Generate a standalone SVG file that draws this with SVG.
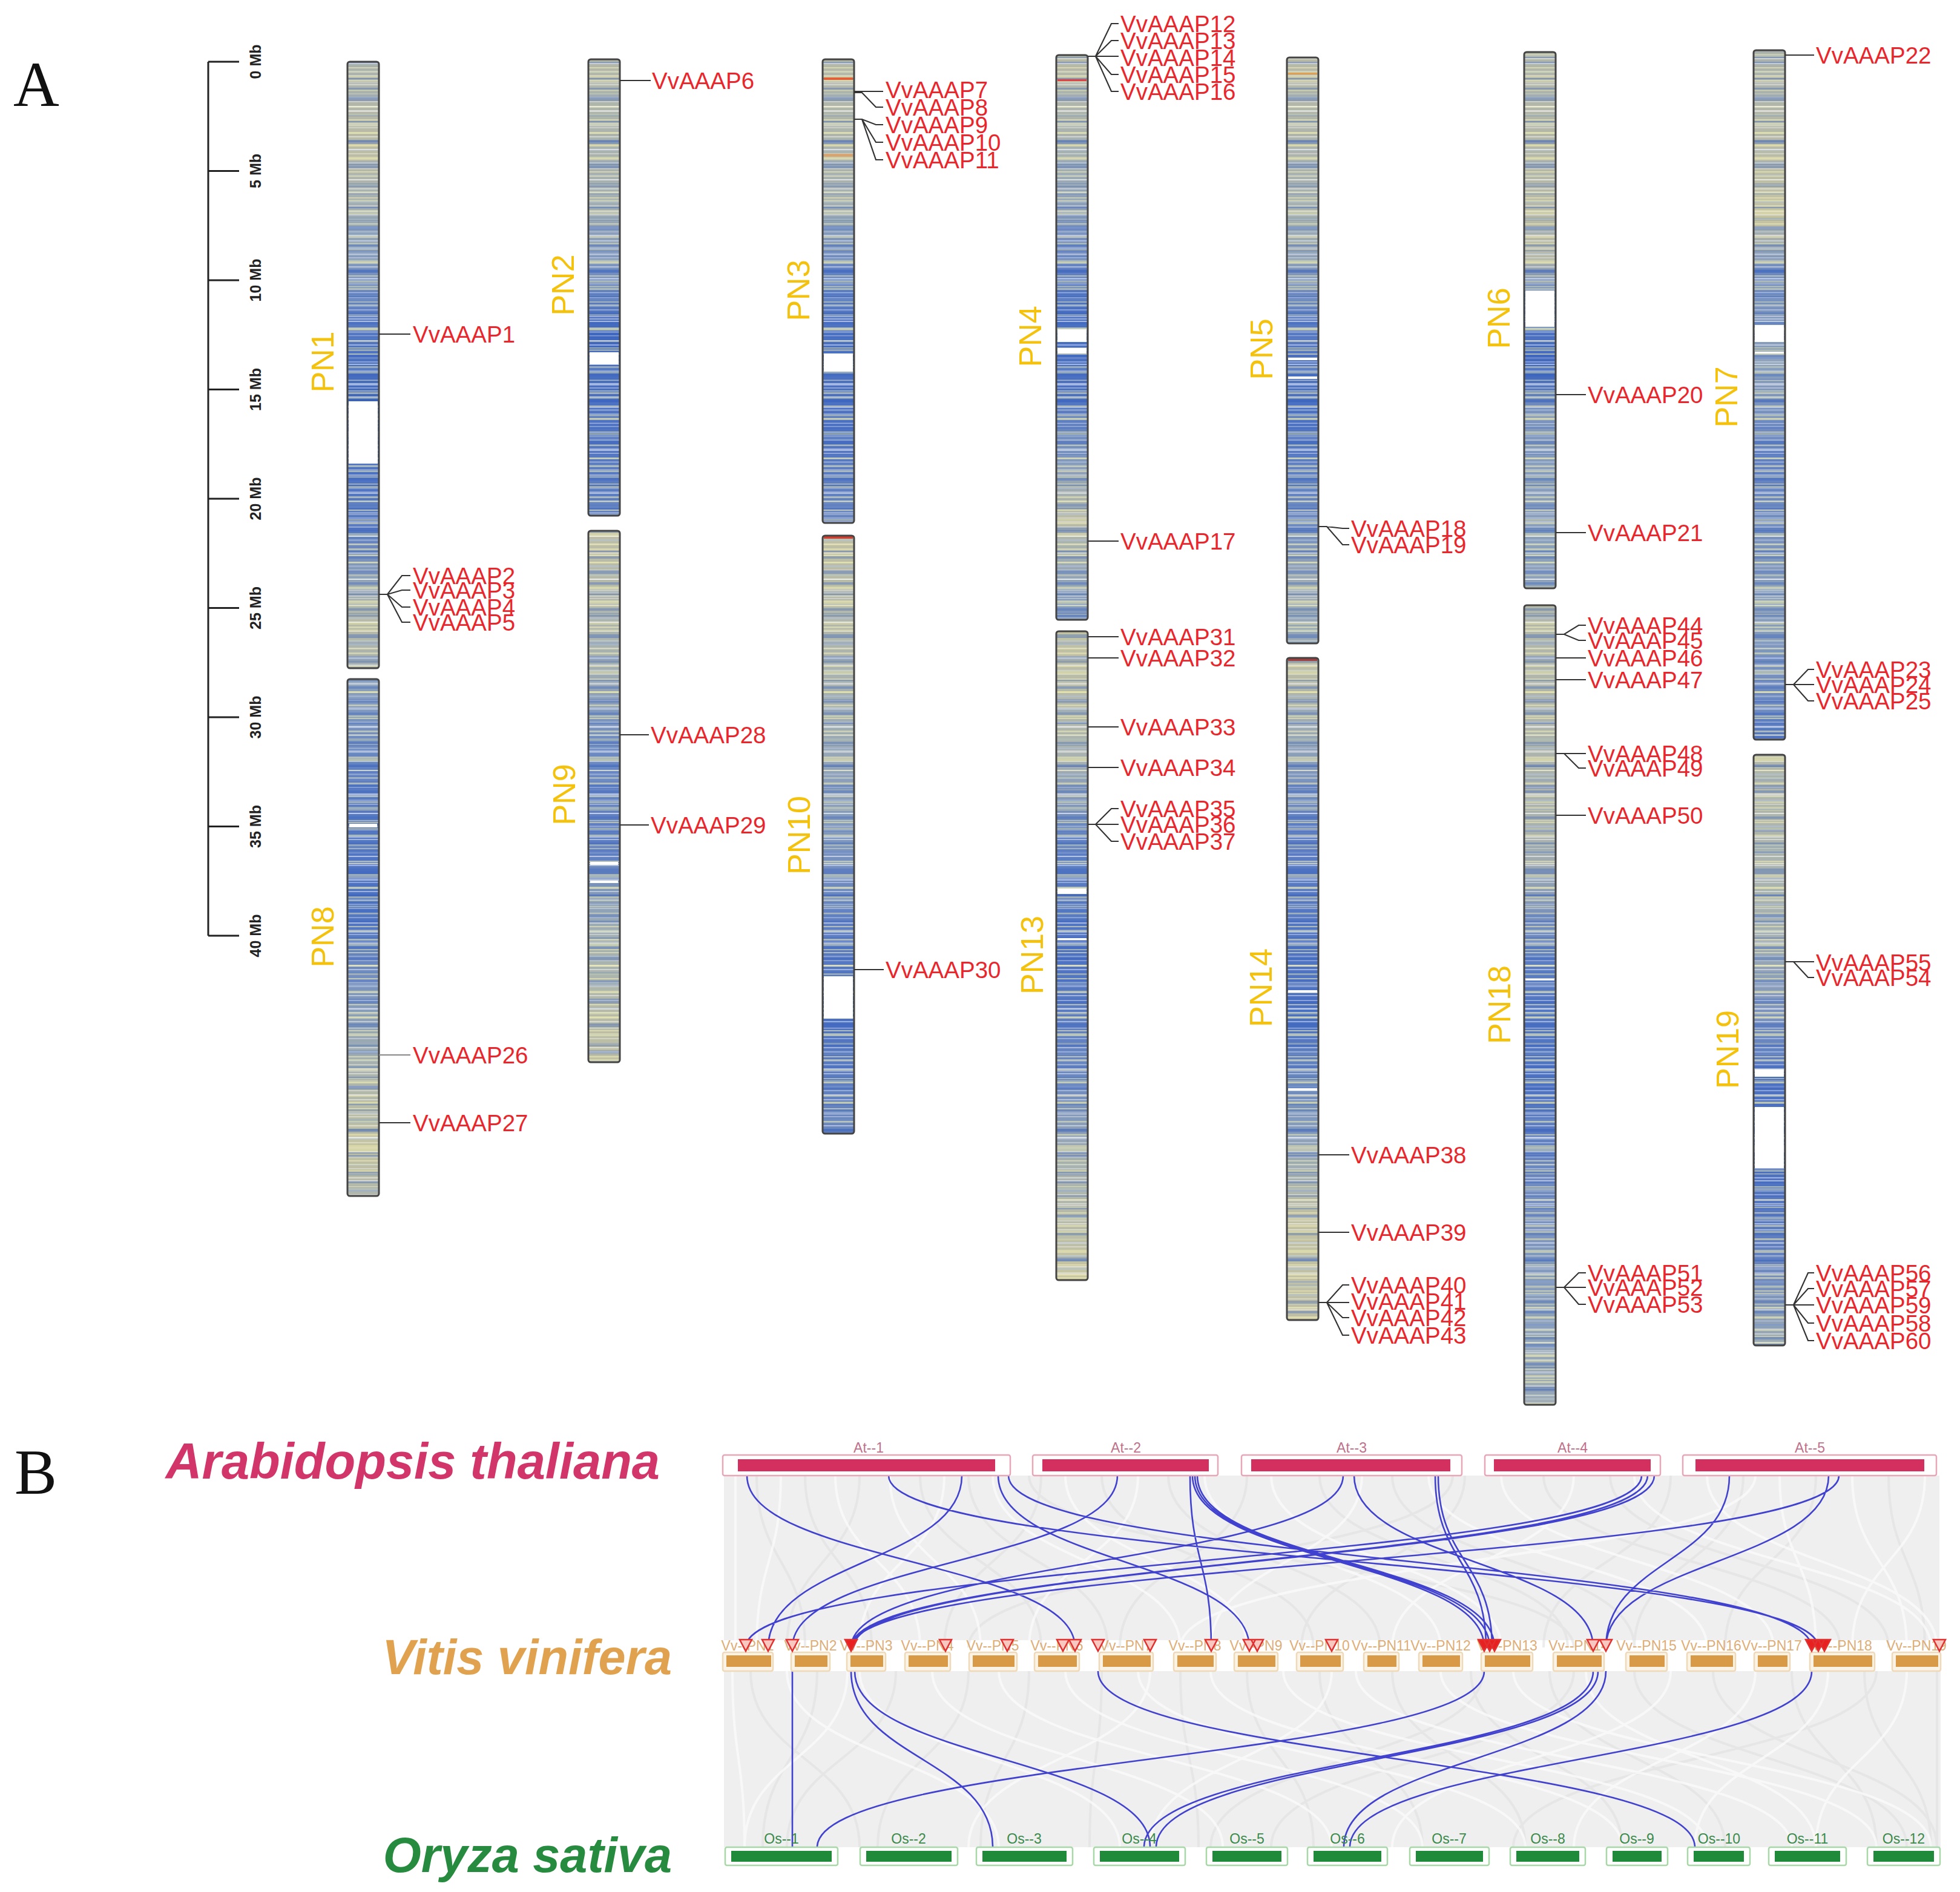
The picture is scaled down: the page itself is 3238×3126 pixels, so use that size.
<svg xmlns="http://www.w3.org/2000/svg" width="3238" height="3126" viewBox="0 0 3238 3126">
<style>
.ln{fill:none;stroke:#333;stroke-width:2.2}
.lg{fill:#E8262B;font-family:"Liberation Sans",Arial,sans-serif;font-size:38.5px}
.pn{fill:#F4C20D;font-family:"Liberation Sans",Arial,sans-serif;font-size:52px;text-anchor:middle}
.co{fill:none;stroke:#444;stroke-width:3}
.gap{fill:#fff}
.sc{font-family:"Liberation Sans",Arial,sans-serif;font-size:25px;font-weight:bold;fill:#222;text-anchor:middle}
.bl{fill:none;stroke:#2E2ECC;stroke-width:2.6;opacity:.9}
.gr{fill:none;stroke:#E0E0E0;stroke-width:4;opacity:.6}
.gw{fill:none;stroke:#FCFCFC;stroke-width:4;opacity:.7}
.at{fill:#fff;stroke:#E6A8B8;stroke-width:2.5}
.ati{fill:#D32F5F}
.vv{fill:#FBF3E6;stroke:#EED9B8;stroke-width:2.5}
.vvi{fill:#D99A48}
.os{fill:#fff;stroke:#A8D8A8;stroke-width:2.5}
.osi{fill:#1F8B3A}
.atl{font-family:"Liberation Sans",Arial,sans-serif;font-size:23px;fill:#C0708A;text-anchor:middle}
.vvl{font-family:"Liberation Sans",Arial,sans-serif;font-size:23px;fill:#D8A060;opacity:.85;text-anchor:middle}
.osl{font-family:"Liberation Sans",Arial,sans-serif;font-size:23px;fill:#3A8A4A;text-anchor:middle}
.tri{fill:#F8C8C0;stroke:#E03030;stroke-width:2.5}
.trf{fill:#E82020;stroke:#E03030;stroke-width:2.5}
.sp{font-family:"Liberation Sans",Arial,sans-serif;font-size:81px;font-weight:bold;font-style:italic;text-anchor:end}
.big{font-family:"Liberation Serif","Times New Roman",serif;font-size:105px;fill:#111}
</style>
<defs>
<pattern id="s1" patternUnits="userSpaceOnUse" width="10" height="43">
<rect y="3" width="10" height="3" fill="#EEEBB8" opacity=".55"/>
<rect y="10" width="10" height="2" fill="#fff" opacity=".45"/>
<rect y="16" width="10" height="4" fill="#3560BE" opacity=".35"/>
<rect y="25" width="10" height="2" fill="#EEEBB8" opacity=".6"/>
<rect y="31" width="10" height="3" fill="#B4C4DE" opacity=".5"/>
<rect y="38" width="10" height="2" fill="#fff" opacity=".35"/>
</pattern>
<pattern id="s2" patternUnits="userSpaceOnUse" width="10" height="71">
<rect y="6" width="10" height="2" fill="#F0EDB0" opacity=".5"/>
<rect y="19" width="10" height="6" fill="#2F5BBE" opacity=".3"/>
<rect y="33" width="10" height="2" fill="#fff" opacity=".5"/>
<rect y="46" width="10" height="3" fill="#F0EDB0" opacity=".45"/>
<rect y="58" width="10" height="2" fill="#3560BE" opacity=".4"/>
<rect y="65" width="10" height="1.5" fill="#fff" opacity=".4"/>
</pattern>
<pattern id="s3" patternUnits="userSpaceOnUse" width="10" height="113">
<rect y="12" width="10" height="3" fill="#E9E6A8" opacity=".5"/>
<rect y="40" width="10" height="8" fill="#7F98C4" opacity=".3"/>
<rect y="70" width="10" height="2" fill="#fff" opacity=".4"/>
<rect y="90" width="10" height="4" fill="#F3EFB4" opacity=".4"/>
</pattern>
<linearGradient id="g1" x1="0" y1="0" x2="0" y2="1"><stop offset="0" stop-color="#A9B1AE"/><stop offset=".15" stop-color="#BDBDA5"/><stop offset=".3" stop-color="#8FA3BC"/><stop offset=".42" stop-color="#5A7CC2"/><stop offset=".56" stop-color="#3F67BE"/><stop offset=".66" stop-color="#4A70C2"/><stop offset=".78" stop-color="#5E7EC0"/><stop offset=".85" stop-color="#8FA2B8"/><stop offset=".92" stop-color="#B8BBA6"/><stop offset="1" stop-color="#A5AFB0"/></linearGradient>
<linearGradient id="g8" x1="0" y1="0" x2="0" y2="1"><stop offset="0" stop-color="#8FA3BC"/><stop offset=".2" stop-color="#5A7CC2"/><stop offset=".45" stop-color="#4A70C2"/><stop offset=".6" stop-color="#7C95BE"/><stop offset=".75" stop-color="#A8B2AE"/><stop offset=".9" stop-color="#C5C4A2"/><stop offset="1" stop-color="#B0B6AA"/></linearGradient>
<linearGradient id="g2" x1="0" y1="0" x2="0" y2="1"><stop offset="0" stop-color="#B3B8A9"/><stop offset=".3" stop-color="#A6B0B0"/><stop offset=".45" stop-color="#7D96C0"/><stop offset=".6" stop-color="#3F67BE"/><stop offset=".75" stop-color="#4D72C2"/><stop offset="1" stop-color="#5F7FC0"/></linearGradient>
<linearGradient id="g9" x1="0" y1="0" x2="0" y2="1"><stop offset="0" stop-color="#BFBFA5"/><stop offset=".25" stop-color="#A5B0B1"/><stop offset=".4" stop-color="#6E8BC2"/><stop offset=".6" stop-color="#5B7CC2"/><stop offset=".75" stop-color="#A0AEB3"/><stop offset="1" stop-color="#C2C1A3"/></linearGradient>
<linearGradient id="g3" x1="0" y1="0" x2="0" y2="1"><stop offset="0" stop-color="#B5B9A8"/><stop offset=".3" stop-color="#A7B1B0"/><stop offset=".45" stop-color="#6585C2"/><stop offset=".6" stop-color="#4A70C2"/><stop offset=".8" stop-color="#4D72C2"/><stop offset="1" stop-color="#6A87C0"/></linearGradient>
<linearGradient id="g10" x1="0" y1="0" x2="0" y2="1"><stop offset="0" stop-color="#C0C0A4"/><stop offset=".3" stop-color="#A2AEB2"/><stop offset=".5" stop-color="#8098BE"/><stop offset=".65" stop-color="#5F7FC2"/><stop offset=".8" stop-color="#4A70C2"/><stop offset="1" stop-color="#6D89BE"/></linearGradient>
<linearGradient id="g4" x1="0" y1="0" x2="0" y2="1"><stop offset="0" stop-color="#B8BAA7"/><stop offset=".2" stop-color="#A3AFB2"/><stop offset=".32" stop-color="#7891C0"/><stop offset=".45" stop-color="#4A70C2"/><stop offset=".6" stop-color="#4C71C2"/><stop offset=".72" stop-color="#8299BC"/><stop offset=".82" stop-color="#BDBEA5"/><stop offset=".9" stop-color="#9DABB4"/><stop offset="1" stop-color="#7C95BE"/></linearGradient>
<linearGradient id="g13" x1="0" y1="0" x2="0" y2="1"><stop offset="0" stop-color="#C3C2A3"/><stop offset=".2" stop-color="#A7B1B0"/><stop offset=".32" stop-color="#5F80C2"/><stop offset=".5" stop-color="#4D72C2"/><stop offset=".7" stop-color="#6E8AC0"/><stop offset=".82" stop-color="#A7B1B0"/><stop offset="1" stop-color="#C8C6A2"/></linearGradient>
<linearGradient id="g5" x1="0" y1="0" x2="0" y2="1"><stop offset="0" stop-color="#B8BAA7"/><stop offset=".3" stop-color="#A3AFB2"/><stop offset=".45" stop-color="#5A7CC2"/><stop offset=".6" stop-color="#4A70C2"/><stop offset=".8" stop-color="#6F8BC0"/><stop offset=".9" stop-color="#A2AEB2"/><stop offset="1" stop-color="#93A5B7"/></linearGradient>
<linearGradient id="g14" x1="0" y1="0" x2="0" y2="1"><stop offset="0" stop-color="#C2C1A3"/><stop offset=".12" stop-color="#97A7B6"/><stop offset=".25" stop-color="#5E7EC2"/><stop offset=".55" stop-color="#4A70C2"/><stop offset=".72" stop-color="#8A9FBA"/><stop offset=".85" stop-color="#C3C2A3"/><stop offset="1" stop-color="#BDBEA5"/></linearGradient>
<linearGradient id="g6" x1="0" y1="0" x2="0" y2="1"><stop offset="0" stop-color="#B0B6AA"/><stop offset=".38" stop-color="#B8BAA7"/><stop offset=".45" stop-color="#5A7CC2"/><stop offset=".6" stop-color="#3F67BE"/><stop offset=".68" stop-color="#8299BC"/><stop offset="1" stop-color="#8FA3BA"/></linearGradient>
<linearGradient id="g18" x1="0" y1="0" x2="0" y2="1"><stop offset="0" stop-color="#B3B8A9"/><stop offset=".3" stop-color="#A9B1AE"/><stop offset=".45" stop-color="#5A7CC2"/><stop offset=".6" stop-color="#4D72C2"/><stop offset=".75" stop-color="#7891C0"/><stop offset=".9" stop-color="#8FA3BA"/><stop offset="1" stop-color="#A2AEB2"/></linearGradient>
<linearGradient id="g7" x1="0" y1="0" x2="0" y2="1"><stop offset="0" stop-color="#A9B1AE"/><stop offset=".25" stop-color="#C4C3A3"/><stop offset=".32" stop-color="#6B88C0"/><stop offset=".45" stop-color="#8FA3BC"/><stop offset=".6" stop-color="#5F7FC2"/><stop offset=".8" stop-color="#8FA3BA"/><stop offset=".95" stop-color="#6B88C0"/><stop offset="1" stop-color="#4F73C0"/></linearGradient>
<linearGradient id="g19" x1="0" y1="0" x2="0" y2="1"><stop offset="0" stop-color="#B3B8A9"/><stop offset=".3" stop-color="#A5B0B1"/><stop offset=".45" stop-color="#7891C0"/><stop offset=".55" stop-color="#4D72C2"/><stop offset=".7" stop-color="#4D72C2"/><stop offset=".85" stop-color="#6582C0"/><stop offset="1" stop-color="#A0ADB2"/></linearGradient>
</defs>
<rect width="3238" height="3126" fill="#fff"/>

<text class="big" x="22" y="175">A</text>
<text class="big" x="24" y="2468">B</text>

<g id="scale">
<path d="M344 102V1546M344 102H395M344 282.5H395M344 463H395M344 643.5H395M344 824H395M344 1004.5H395M344 1185H395M344 1365.5H395M344 1546H395" stroke="#222" stroke-width="3" fill="none"/>
<text class="sc" transform="translate(431 102) rotate(-90)">0 Mb</text>
<text class="sc" transform="translate(431 282.5) rotate(-90)">5 Mb</text>
<text class="sc" transform="translate(431 463) rotate(-90)">10 Mb</text>
<text class="sc" transform="translate(431 643.5) rotate(-90)">15 Mb</text>
<text class="sc" transform="translate(431 824) rotate(-90)">20 Mb</text>
<text class="sc" transform="translate(431 1004.5) rotate(-90)">25 Mb</text>
<text class="sc" transform="translate(431 1185) rotate(-90)">30 Mb</text>
<text class="sc" transform="translate(431 1365.5) rotate(-90)">35 Mb</text>
<text class="sc" transform="translate(431 1546) rotate(-90)">40 Mb</text>
</g>

<g id="PN1">
<rect x="574" y="102" width="52" height="1002" fill="url(#g1)"/>
<rect x="574" y="102" width="52" height="1002" fill="url(#s1)"/>
<rect x="574" y="102" width="52" height="1002" fill="url(#s2)"/>
<rect x="574" y="102" width="52" height="1002" fill="url(#s3)"/>
<rect class="gap" x="576" y="663" width="48" height="103"/>
<rect class="co" x="574" y="102" width="52" height="1002" rx="4"/>
<text class="pn" transform="translate(551 598) rotate(-90)">PN1</text>
<path class="ln" d="M626 552H678M626 982H640L664 951H678M626 982H640L664 975H678M626 982H640L664 1003H678M626 982H640L664 1028H678"/>
<text class="lg" x="682" y="566">VvAAAP1</text>
<text class="lg" x="682" y="965">VvAAAP2</text>
<text class="lg" x="682" y="989">VvAAAP3</text>
<text class="lg" x="682" y="1017">VvAAAP4</text>
<text class="lg" x="682" y="1042">VvAAAP5</text>
</g>

<g id="PN8">
<rect x="574" y="1122" width="52" height="854" fill="url(#g8)"/>
<rect x="574" y="1122" width="52" height="854" fill="url(#s1)"/>
<rect x="574" y="1122" width="52" height="854" fill="url(#s2)"/>
<rect x="574" y="1122" width="52" height="854" fill="url(#s3)"/>
<rect class="gap" x="577" y="1361" width="46" height="6"/>
<rect class="co" x="574" y="1122" width="52" height="854" rx="4"/>
<text class="pn" transform="translate(551 1548) rotate(-90)">PN8</text>
<path class="ln" d="M626 1743H678" style="stroke:#888"/>
<path class="ln" d="M626 1855H678"/>
<text class="lg" x="682" y="1757">VvAAAP26</text>
<text class="lg" x="682" y="1869">VvAAAP27</text>
</g>

<g id="PN2">
<rect x="972" y="98" width="52" height="754" fill="url(#g2)"/>
<rect x="972" y="98" width="52" height="754" fill="url(#s1)"/>
<rect x="972" y="98" width="52" height="754" fill="url(#s2)"/>
<rect x="972" y="98" width="52" height="754" fill="url(#s3)"/>
<rect class="gap" x="974" y="582" width="48" height="20"/>
<rect class="co" x="972" y="98" width="52" height="754" rx="4"/>
<text class="pn" transform="translate(948 471) rotate(-90)">PN2</text>
<path class="ln" d="M1024 133H1075"/>
<text class="lg" x="1077" y="147">VvAAAP6</text>
</g>

<g id="PN9">
<rect x="972" y="877" width="52" height="878" fill="url(#g9)"/>
<rect x="972" y="877" width="52" height="878" fill="url(#s1)"/>
<rect x="972" y="877" width="52" height="878" fill="url(#s2)"/>
<rect x="972" y="877" width="52" height="878" fill="url(#s3)"/>
<rect class="gap" x="975" y="1424" width="46" height="5"/>
<rect class="gap" x="975" y="1455" width="46" height="4"/>
<rect class="co" x="972" y="877" width="52" height="878" rx="4"/>
<text class="pn" transform="translate(950 1313) rotate(-90)">PN9</text>
<path class="ln" d="M1024 1214H1072M1024 1363H1072"/>
<text class="lg" x="1075" y="1228">VvAAAP28</text>
<text class="lg" x="1075" y="1377">VvAAAP29</text>
</g>

<g id="PN3">
<rect x="1359" y="98" width="52" height="766" fill="url(#g3)"/>
<rect x="1359" y="98" width="52" height="766" fill="url(#s1)"/>
<rect x="1359" y="98" width="52" height="766" fill="url(#s2)"/>
<rect x="1359" y="98" width="52" height="766" fill="url(#s3)"/>
<rect x="1361" y="128" width="48" height="4" fill="#E0603A"/>
<rect x="1361" y="254" width="48" height="5" fill="#E0A060" opacity=".8"/>
<rect class="gap" x="1361" y="584" width="48" height="30"/>
<rect class="co" x="1359" y="98" width="52" height="766" rx="4"/>
<text class="pn" transform="translate(1337 480) rotate(-90)">PN3</text>
<path class="ln" d="M1411 151H1459M1411 153H1424L1447 177H1459M1411 197H1424L1447 206H1459M1411 197H1424L1447 235H1459M1411 197H1424L1447 264H1459"/>
<text class="lg" x="1463" y="162">VvAAAP7</text>
<text class="lg" x="1463" y="191">VvAAAP8</text>
<text class="lg" x="1463" y="220">VvAAAP9</text>
<text class="lg" x="1463" y="249">VvAAAP10</text>
<text class="lg" x="1463" y="278">VvAAAP11</text>
</g>

<g id="PN10">
<rect x="1359" y="885" width="52" height="988" fill="url(#g10)"/>
<rect x="1359" y="885" width="52" height="988" fill="url(#s1)"/>
<rect x="1359" y="885" width="52" height="988" fill="url(#s2)"/>
<rect x="1359" y="885" width="52" height="988" fill="url(#s3)"/>
<rect x="1361" y="886" width="48" height="4" fill="#D04030"/>
<rect class="gap" x="1361" y="1613" width="48" height="70"/>
<rect class="co" x="1359" y="885" width="52" height="988" rx="4"/>
<text class="pn" transform="translate(1338 1380) rotate(-90)">PN10</text>
<path class="ln" d="M1411 1602H1460"/>
<text class="lg" x="1463" y="1616">VvAAAP30</text>
</g>

<g id="PN4">
<rect x="1745" y="91" width="52" height="933" fill="url(#g4)"/>
<rect x="1745" y="91" width="52" height="933" fill="url(#s1)"/>
<rect x="1745" y="91" width="52" height="933" fill="url(#s2)"/>
<rect x="1745" y="91" width="52" height="933" fill="url(#s3)"/>
<rect x="1747" y="131" width="48" height="3" fill="#E04040"/>
<rect class="gap" x="1747" y="544" width="48" height="21"/>
<rect class="gap" x="1747" y="575" width="48" height="9"/>
<rect class="co" x="1745" y="91" width="52" height="933" rx="4"/>
<text class="pn" transform="translate(1720 556) rotate(-90)">PN4</text>
<path class="ln" d="M1797 93H1810L1836 39H1848M1797 93H1810L1836 67H1848M1797 93H1848M1797 93H1810L1836 123H1848M1797 93H1810L1836 151H1848M1797 894H1848"/>
<text class="lg" x="1851" y="53">VvAAAP12</text>
<text class="lg" x="1851" y="81">VvAAAP13</text>
<text class="lg" x="1851" y="109">VvAAAP14</text>
<text class="lg" x="1851" y="137">VvAAAP15</text>
<text class="lg" x="1851" y="165">VvAAAP16</text>
<text class="lg" x="1851" y="908">VvAAAP17</text>
</g>

<g id="PN13">
<rect x="1745" y="1043" width="52" height="1072" fill="url(#g13)"/>
<rect x="1745" y="1043" width="52" height="1072" fill="url(#s1)"/>
<rect x="1745" y="1043" width="52" height="1072" fill="url(#s2)"/>
<rect x="1745" y="1043" width="52" height="1072" fill="url(#s3)"/>
<rect class="gap" x="1747" y="1468" width="48" height="9"/>
<rect class="gap" x="1747" y="1550" width="48" height="3"/>
<rect class="co" x="1745" y="1043" width="52" height="1072" rx="4"/>
<text class="pn" transform="translate(1723 1578) rotate(-90)">PN13</text>
<path class="ln" d="M1797 1052H1848M1797 1087H1848M1797 1201H1848M1797 1268H1848M1797 1362H1810L1836 1336H1848M1797 1362H1848M1797 1362H1810L1836 1390H1848"/>
<text class="lg" x="1851" y="1066">VvAAAP31</text>
<text class="lg" x="1851" y="1101">VvAAAP32</text>
<text class="lg" x="1851" y="1215">VvAAAP33</text>
<text class="lg" x="1851" y="1282">VvAAAP34</text>
<text class="lg" x="1851" y="1350">VvAAAP35</text>
<text class="lg" x="1851" y="1376">VvAAAP36</text>
<text class="lg" x="1851" y="1404">VvAAAP37</text>
</g>

<g id="PN5">
<rect x="2126" y="95" width="52" height="968" fill="url(#g5)"/>
<rect x="2126" y="95" width="52" height="968" fill="url(#s1)"/>
<rect x="2126" y="95" width="52" height="968" fill="url(#s2)"/>
<rect x="2126" y="95" width="52" height="968" fill="url(#s3)"/>
<rect x="2128" y="120" width="48" height="3" fill="#E0A050"/>
<rect class="gap" x="2128" y="591" width="48" height="4"/>
<rect class="gap" x="2128" y="622" width="48" height="4"/>
<rect class="co" x="2126" y="95" width="52" height="968" rx="4"/>
<text class="pn" transform="translate(2102 577) rotate(-90)">PN5</text>
<path class="ln" d="M2178 870H2192L2218 873H2229M2178 870H2192L2218 900H2229"/>
<text class="lg" x="2232" y="887">VvAAAP18</text>
<text class="lg" x="2232" y="914">VvAAAP19</text>
</g>

<g id="PN14">
<rect x="2126" y="1087" width="52" height="1094" fill="url(#g14)"/>
<rect x="2126" y="1087" width="52" height="1094" fill="url(#s1)"/>
<rect x="2126" y="1087" width="52" height="1094" fill="url(#s2)"/>
<rect x="2126" y="1087" width="52" height="1094" fill="url(#s3)"/>
<rect x="2128" y="1088" width="48" height="4" fill="#A04040"/>
<rect class="gap" x="2128" y="1636" width="48" height="4"/>
<rect class="gap" x="2128" y="1798" width="48" height="4"/>
<rect class="co" x="2126" y="1087" width="52" height="1094" rx="4"/>
<text class="pn" transform="translate(2101 1632) rotate(-90)">PN14</text>
<path class="ln" d="M2178 1908H2229M2178 2036H2229M2178 2152H2192L2218 2123H2229M2178 2152H2229M2178 2152H2192L2218 2177H2229M2178 2152H2192L2218 2206H2229"/>
<text class="lg" x="2232" y="1922">VvAAAP38</text>
<text class="lg" x="2232" y="2050">VvAAAP39</text>
<text class="lg" x="2232" y="2137">VvAAAP40</text>
<text class="lg" x="2232" y="2164">VvAAAP41</text>
<text class="lg" x="2232" y="2191">VvAAAP42</text>
<text class="lg" x="2232" y="2220">VvAAAP43</text>
</g>

<g id="PN6">
<rect x="2518" y="86" width="52" height="886" fill="url(#g6)"/>
<rect x="2518" y="86" width="52" height="886" fill="url(#s1)"/>
<rect x="2518" y="86" width="52" height="886" fill="url(#s2)"/>
<rect x="2518" y="86" width="52" height="886" fill="url(#s3)"/>
<rect class="gap" x="2520" y="480" width="48" height="60"/>
<rect class="co" x="2518" y="86" width="52" height="886" rx="4"/>
<text class="pn" transform="translate(2494 526) rotate(-90)">PN6</text>
<path class="ln" d="M2570 652H2620M2570 880H2620"/>
<text class="lg" x="2623" y="666">VvAAAP20</text>
<text class="lg" x="2623" y="894">VvAAAP21</text>
</g>

<g id="PN18">
<rect x="2518" y="1000" width="52" height="1321" fill="url(#g18)"/>
<rect x="2518" y="1000" width="52" height="1321" fill="url(#s1)"/>
<rect x="2518" y="1000" width="52" height="1321" fill="url(#s2)"/>
<rect x="2518" y="1000" width="52" height="1321" fill="url(#s3)"/>
<rect class="gap" x="2520" y="1617" width="48" height="3"/>
<rect class="co" x="2518" y="1000" width="52" height="1321" rx="4"/>
<text class="pn" transform="translate(2495 1660) rotate(-90)">PN18</text>
<path class="ln" d="M2570 1048H2584L2608 1033H2620M2570 1048H2584L2608 1058H2620M2570 1087H2620M2570 1123H2620M2570 1245H2620M2570 1245H2584L2608 1269H2620M2570 1347H2620M2570 2127H2584L2608 2103H2620M2570 2127H2620M2570 2127H2584L2608 2155H2620"/>
<text class="lg" x="2623" y="1047">VvAAAP44</text>
<text class="lg" x="2623" y="1072">VvAAAP45</text>
<text class="lg" x="2623" y="1101">VvAAAP46</text>
<text class="lg" x="2623" y="1137">VvAAAP47</text>
<text class="lg" x="2623" y="1259">VvAAAP48</text>
<text class="lg" x="2623" y="1283">VvAAAP49</text>
<text class="lg" x="2623" y="1361">VvAAAP50</text>
<text class="lg" x="2623" y="2117">VvAAAP51</text>
<text class="lg" x="2623" y="2141">VvAAAP52</text>
<text class="lg" x="2623" y="2169">VvAAAP53</text>
</g>

<g id="PN7">
<rect x="2897" y="83" width="52" height="1139" fill="url(#g7)"/>
<rect x="2897" y="83" width="52" height="1139" fill="url(#s1)"/>
<rect x="2897" y="83" width="52" height="1139" fill="url(#s2)"/>
<rect x="2897" y="83" width="52" height="1139" fill="url(#s3)"/>
<rect class="gap" x="2899" y="537" width="48" height="28"/>
<rect class="gap" x="2899" y="581" width="48" height="3"/>
<rect class="co" x="2897" y="83" width="52" height="1139" rx="4"/>
<text class="pn" transform="translate(2870 656) rotate(-90)">PN7</text>
<path class="ln" d="M2949 91H2997M2949 1131H2963L2987 1106H2997M2949 1131H2997M2949 1131H2963L2987 1158H2997"/>
<text class="lg" x="3000" y="105">VvAAAP22</text>
<text class="lg" x="3000" y="1120">VvAAAP23</text>
<text class="lg" x="3000" y="1145">VvAAAP24</text>
<text class="lg" x="3000" y="1172">VvAAAP25</text>
</g>

<g id="PN19">
<rect x="2897" y="1247" width="52" height="976" fill="url(#g19)"/>
<rect x="2897" y="1247" width="52" height="976" fill="url(#s1)"/>
<rect x="2897" y="1247" width="52" height="976" fill="url(#s2)"/>
<rect x="2897" y="1247" width="52" height="976" fill="url(#s3)"/>
<rect class="gap" x="2899" y="1767" width="48" height="12"/>
<rect class="gap" x="2899" y="1829" width="48" height="101"/>
<rect class="co" x="2897" y="1247" width="52" height="976" rx="4"/>
<text class="pn" transform="translate(2872 1734) rotate(-90)">PN19</text>
<path class="ln" d="M2949 1589H2997M2949 1589H2963L2987 1615H2997M2949 2156H2963L2987 2103H2997M2949 2156H2963L2987 2129H2997M2949 2156H2997M2949 2156H2963L2987 2186H2997M2949 2156H2963L2987 2215H2997"/>
<text class="lg" x="3000" y="1604">VvAAAP55</text>
<text class="lg" x="3000" y="1629">VvAAAP54</text>
<text class="lg" x="3000" y="2117">VvAAAP56</text>
<text class="lg" x="3000" y="2143">VvAAAP57</text>
<text class="lg" x="3000" y="2170">VvAAAP59</text>
<text class="lg" x="3000" y="2200">VvAAAP58</text>
<text class="lg" x="3000" y="2229">VvAAAP60</text>
</g>

<g id="species">
<text class="sp" x="1090" y="2443" fill="#D2356A" style="font-size:83px">Arabidopsis thaliana</text>
<text class="sp" x="1110" y="2766" fill="#E0A24E">Vitis vinifera</text>
<text class="sp" x="1110" y="3093" fill="#278B3F">Oryza sativa</text>
</g>

<g id="background-links">
<rect x="1196" y="2438" width="2008" height="272" fill="#EFEFEF"/>
<rect x="1196" y="2761" width="2010" height="291" fill="#EFEFEF"/>
<path class="gr" d="M1250 2438C1250 2580 1330 2580 1330 2722M1330 2438C1330 2580 1440 2580 1440 2722M1420 2438C1420 2580 1300 2580 1300 2722M1520 2438C1520 2580 1720 2580 1720 2722M1600 2438C1600 2580 1830 2580 1830 2722M1720 2438C1720 2580 1560 2580 1560 2722M1820 2438C1820 2580 2170 2580 2170 2722M1930 2438C1930 2580 2280 2580 2280 2722M2060 2438C2060 2580 1850 2580 1850 2722M2180 2438C2180 2580 2590 2580 2590 2722M2300 2438C2300 2580 2700 2580 2700 2722M2420 2438C2420 2580 2150 2580 2150 2722M2550 2438C2550 2580 3040 2580 3040 2722M2660 2438C2660 2580 3120 2580 3120 2722M2760 2438C2760 2580 2550 2580 2550 2722M2880 2438C2880 2580 2700 2580 2700 2722M3000 2438C3000 2580 2850 2580 2850 2722M3120 2438C3120 2580 3180 2580 3180 2722M2400 2438C2400 2580 1600 2580 1600 2722M1700 2438C1700 2580 2600 2580 2600 2722"/>
<path class="gw" d="M1215 2438C1215 2580 1215 2580 1215 2722M1290 2438C1290 2580 1250 2580 1250 2722M1380 2438C1380 2580 1520 2580 1520 2722M1470 2438C1470 2580 1620 2580 1620 2722M1560 2438C1560 2580 1420 2580 1420 2722M1640 2438C1640 2580 1950 2580 1950 2722M1760 2438C1760 2580 2060 2580 2060 2722M1880 2438C1880 2580 1700 2580 1700 2722M1990 2438C1990 2580 2380 2580 2380 2722M2100 2438C2100 2580 2480 2580 2480 2722M2250 2438C2250 2580 2000 2580 2000 2722M2360 2438C2360 2580 2820 2580 2820 2722M2480 2438C2480 2580 2930 2580 2930 2722M2600 2438C2600 2580 2300 2580 2300 2722M2700 2438C2700 2580 3190 2580 3190 2722M2820 2438C2820 2580 3200 2580 3200 2722M2940 2438C2940 2580 3000 2580 3000 2722M3060 2438C3060 2580 3150 2580 3150 2722M3180 2438C3180 2580 3060 2580 3060 2722M2900 2438C2900 2580 1950 2580 1950 2722"/>
<path class="gr" d="M1240 2761C1240 2906 1420 2906 1420 3052M1350 2761C1350 2906 1260 2906 1260 3052M1480 2761C1480 2906 1300 2906 1300 3052M1600 2761C1600 2906 1450 2906 1450 3052M1700 2761C1700 2906 1620 2906 1620 3052M1820 2761C1820 2906 1800 2906 1800 3052M1950 2761C1950 2906 1980 2906 1980 3052M2060 2761C2060 2906 2170 2906 2170 3052M2180 2761C2180 2906 2350 2906 2350 3052M2300 2761C2300 2906 2520 2906 2520 3052M2430 2761C2430 2906 2680 2906 2680 3052M2560 2761C2560 2906 2850 2906 2850 3052M2700 2761C2700 2906 3150 2906 3150 3052M2830 2761C2830 2906 3200 2906 3200 3052M2960 2761C2960 2906 3100 2906 3100 3052M3080 2761C3080 2906 3190 2906 3190 3052M3200 2761C3200 2906 3200 2906 3200 3052M2600 2761C2600 2906 2100 2906 2100 3052M3100 2761C3100 2906 2500 2906 2500 3052M2450 2761C2450 2906 2000 2906 2000 3052"/>
<path class="gw" d="M1210 2761C1210 2906 1230 2906 1230 3052M1300 2761C1300 2906 1650 2906 1650 3052M1420 2761C1420 2906 1850 2906 1850 3052M1540 2761C1540 2906 2020 2906 2020 3052M1650 2761C1650 2906 2200 2906 2200 3052M1760 2761C1760 2906 2350 2906 2350 3052M1880 2761C1880 2906 2520 2906 2520 3052M2000 2761C2000 2906 2680 2906 2680 3052M2120 2761C2120 2906 2820 2906 2820 3052M2240 2761C2240 2906 2960 2906 2960 3052M2380 2761C2380 2906 3100 2906 3100 3052M2500 2761C2500 2906 3190 2906 3190 3052M2620 2761C2620 2906 3000 2906 3000 3052M2760 2761C2760 2906 2300 2906 2300 3052M2900 2761C2900 2906 2600 2906 2600 3052M3020 2761C3020 2906 2800 2906 2800 3052M3150 2761C3150 2906 3000 2906 3000 3052M2200 2761C2200 2906 1900 2906 1900 3052M1400 2761C1400 2906 1230 2906 1230 3052M1900 2761C1900 2906 1600 2906 1600 3052"/>
</g>

<g id="links">
<path class="bl" d="M1234 2438C1234 2580 1776 2580 1776 2722M1468 2438C1468 2580 3004 2580 3004 2722M1589 2438C1589 2580 1269 2580 1269 2722M1649 2438C1649 2580 2064 2580 2064 2722M1666 2438C1666 2580 2993 2580 2993 2722M1846 2438C1846 2580 1309 2580 1309 2722M1966 2438C1966 2580 2001 2580 2001 2722M1970 2438C1970 2580 2452 2580 2452 2722M1974 2438C1974 2580 2461 2580 2461 2722M1978 2438C1978 2580 2469 2580 2469 2722M2219 2438C2219 2580 1406 2580 1406 2722M2237 2438C2237 2580 2632 2580 2632 2722M2371 2438C2371 2580 2455 2580 2455 2722M2376 2438C2376 2580 2465 2580 2465 2722M2712 2438C2712 2580 1232 2580 1232 2722M2722 2438C2722 2580 1406 2580 1406 2722M2733 2438C2733 2580 1410 2580 1410 2722M2857 2438C2857 2580 2653 2580 2653 2722M3021 2438C3021 2580 2653 2580 2653 2722M3038 2438C3038 2580 1406 2580 1406 2722"/>
<path class="bl" d="M1309 2761C1309 2906 1309 2906 1309 3052M1406 2761C1406 2906 1640 2906 1640 3052M1412 2761C1412 2906 1900 2906 1900 3052M1814 2761C1814 2906 2800 2906 2800 3052M2452 2761C2452 2906 1350 2906 1350 3052M2632 2761C2632 2906 1890 2906 1890 3052M2640 2761C2640 2906 1910 2906 1910 3052M2653 2761C2653 2906 2220 2906 2220 3052M2993 2761C2993 2906 2230 2906 2230 3052"/>
</g>

<g id="At">
<rect class="at" x="1194" y="2404" width="475" height="34" rx="3"/><rect class="ati" x="1219" y="2411" width="425" height="20"/><text class="atl" x="1435" y="2400">At--1</text>
<rect class="at" x="1706" y="2404" width="306" height="34" rx="3"/><rect class="ati" x="1722" y="2411" width="275" height="20"/><text class="atl" x="1860" y="2400">At--2</text>
<rect class="at" x="2051" y="2404" width="364" height="34" rx="3"/><rect class="ati" x="2067" y="2411" width="329" height="20"/><text class="atl" x="2233" y="2400">At--3</text>
<rect class="at" x="2453" y="2404" width="290" height="34" rx="3"/><rect class="ati" x="2468" y="2411" width="259" height="20"/><text class="atl" x="2598" y="2400">At--4</text>
<rect class="at" x="2780" y="2404" width="419" height="34" rx="3"/><rect class="ati" x="2801" y="2411" width="378" height="20"/><text class="atl" x="2990" y="2400">At--5</text>
</g>

<g id="Vv">
<rect class="vv" x="1194" y="2730" width="83" height="31" rx="3"/><rect class="vvi" x="1200" y="2735" width="74" height="19"/><text class="vvl" x="1235" y="2727">Vv--PN1</text>
<rect class="vv" x="1307" y="2730" width="64" height="31" rx="3"/><rect class="vvi" x="1313" y="2735" width="54" height="19"/><text class="vvl" x="1339" y="2727">Vv--PN2</text>
<rect class="vv" x="1399" y="2730" width="64" height="31" rx="3"/><rect class="vvi" x="1405" y="2735" width="54" height="19"/><text class="vvl" x="1431" y="2727">Vv--PN3</text>
<rect class="vv" x="1495" y="2730" width="75" height="31" rx="3"/><rect class="vvi" x="1501" y="2735" width="65" height="19"/><text class="vvl" x="1532" y="2727">Vv--PN4</text>
<rect class="vv" x="1601" y="2730" width="79" height="31" rx="3"/><rect class="vvi" x="1607" y="2735" width="69" height="19"/><text class="vvl" x="1640" y="2727">Vv--PN5</text>
<rect class="vv" x="1709" y="2730" width="74" height="31" rx="3"/><rect class="vvi" x="1715" y="2735" width="64" height="19"/><text class="vvl" x="1746" y="2727">Vv--PN6</text>
<rect class="vv" x="1816" y="2730" width="89" height="31" rx="3"/><rect class="vvi" x="1822" y="2735" width="79" height="19"/><text class="vvl" x="1860" y="2727">Vv--PN7</text>
<rect class="vv" x="1939" y="2730" width="70" height="31" rx="3"/><rect class="vvi" x="1945" y="2735" width="60" height="19"/><text class="vvl" x="1974" y="2727">Vv--PN8</text>
<rect class="vv" x="2039" y="2730" width="72" height="31" rx="3"/><rect class="vvi" x="2045" y="2735" width="62" height="19"/><text class="vvl" x="2075" y="2727">Vv--PN9</text>
<rect class="vv" x="2142" y="2730" width="77" height="31" rx="3"/><rect class="vvi" x="2148" y="2735" width="67" height="19"/><text class="vvl" x="2180" y="2727">Vv--PN10</text>
<rect class="vv" x="2253" y="2730" width="58" height="31" rx="3"/><rect class="vvi" x="2259" y="2735" width="48" height="19"/><text class="vvl" x="2282" y="2727">Vv--PN11</text>
<rect class="vv" x="2344" y="2730" width="72" height="31" rx="3"/><rect class="vvi" x="2350" y="2735" width="62" height="19"/><text class="vvl" x="2380" y="2727">Vv--PN12</text>
<rect class="vv" x="2447" y="2730" width="85" height="31" rx="3"/><rect class="vvi" x="2453" y="2735" width="75" height="19"/><text class="vvl" x="2490" y="2727">Vv--PN13</text>
<rect class="vv" x="2566" y="2730" width="84" height="31" rx="3"/><rect class="vvi" x="2572" y="2735" width="74" height="19"/><text class="vvl" x="2608" y="2727">Vv--PN14</text>
<rect class="vv" x="2686" y="2730" width="68" height="31" rx="3"/><rect class="vvi" x="2692" y="2735" width="58" height="19"/><text class="vvl" x="2720" y="2727">Vv--PN15</text>
<rect class="vv" x="2787" y="2730" width="80" height="31" rx="3"/><rect class="vvi" x="2793" y="2735" width="70" height="19"/><text class="vvl" x="2827" y="2727">Vv--PN16</text>
<rect class="vv" x="2898" y="2730" width="59" height="31" rx="3"/><rect class="vvi" x="2904" y="2735" width="49" height="19"/><text class="vvl" x="2927" y="2727">Vv--PN17</text>
<rect class="vv" x="2990" y="2730" width="107" height="31" rx="3"/><rect class="vvi" x="2996" y="2735" width="97" height="19"/><text class="vvl" x="3043" y="2727">Vv--PN18</text>
<rect class="vv" x="3126" y="2730" width="80" height="31" rx="3"/><rect class="vvi" x="3132" y="2735" width="70" height="19"/><text class="vvl" x="3166" y="2727">Vv--PN19</text>
</g>

<g id="genes-Vv">
<path class="tri" d="M1222 2709H1242L1232 2728ZM1259 2709H1279L1269 2728ZM1299 2709H1319L1309 2728ZM1552 2709H1572L1562 2728ZM1654 2709H1674L1664 2728ZM1746 2709H1766L1756 2728ZM1766 2709H1786L1776 2728ZM1804 2709H1824L1814 2728ZM1890 2709H1910L1900 2728ZM1991 2709H2011L2001 2728ZM2054 2709H2074L2064 2728ZM2067 2709H2087L2077 2728ZM2190 2709H2210L2200 2728ZM2622 2709H2642L2632 2728ZM2643 2709H2663L2653 2728ZM3194 2709H3214L3204 2728Z"/>
<path class="trf" d="M1396 2709H1416L1406 2728ZM2442 2709H2462L2452 2728ZM2451 2709H2471L2461 2728ZM2459 2709H2479L2469 2728ZM2983 2709H3003L2993 2728ZM2994 2709H3014L3004 2728ZM3004 2709H3024L3014 2728Z"/>
</g>

<g id="Os">
<rect class="os" x="1198" y="3052" width="186" height="30" rx="3"/><rect class="osi" x="1208" y="3058" width="166" height="18"/><text class="osl" x="1291" y="3046">Os--1</text>
<rect class="os" x="1421" y="3052" width="161" height="30" rx="3"/><rect class="osi" x="1431" y="3058" width="141" height="18"/><text class="osl" x="1501" y="3046">Os--2</text>
<rect class="os" x="1613" y="3052" width="159" height="30" rx="3"/><rect class="osi" x="1623" y="3058" width="139" height="18"/><text class="osl" x="1692" y="3046">Os--3</text>
<rect class="os" x="1807" y="3052" width="151" height="30" rx="3"/><rect class="osi" x="1817" y="3058" width="131" height="18"/><text class="osl" x="1882" y="3046">Os--4</text>
<rect class="os" x="1993" y="3052" width="134" height="30" rx="3"/><rect class="osi" x="2003" y="3058" width="114" height="18"/><text class="osl" x="2060" y="3046">Os--5</text>
<rect class="os" x="2160" y="3052" width="132" height="30" rx="3"/><rect class="osi" x="2170" y="3058" width="112" height="18"/><text class="osl" x="2226" y="3046">Os--6</text>
<rect class="os" x="2329" y="3052" width="131" height="30" rx="3"/><rect class="osi" x="2339" y="3058" width="111" height="18"/><text class="osl" x="2394" y="3046">Os--7</text>
<rect class="os" x="2495" y="3052" width="124" height="30" rx="3"/><rect class="osi" x="2505" y="3058" width="104" height="18"/><text class="osl" x="2557" y="3046">Os--8</text>
<rect class="os" x="2654" y="3052" width="101" height="30" rx="3"/><rect class="osi" x="2664" y="3058" width="81" height="18"/><text class="osl" x="2704" y="3046">Os--9</text>
<rect class="os" x="2788" y="3052" width="103" height="30" rx="3"/><rect class="osi" x="2798" y="3058" width="83" height="18"/><text class="osl" x="2840" y="3046">Os--10</text>
<rect class="os" x="2922" y="3052" width="128" height="30" rx="3"/><rect class="osi" x="2932" y="3058" width="108" height="18"/><text class="osl" x="2986" y="3046">Os--11</text>
<rect class="os" x="3085" y="3052" width="120" height="30" rx="3"/><rect class="osi" x="3095" y="3058" width="100" height="18"/><text class="osl" x="3145" y="3046">Os--12</text>
</g>
</svg>
